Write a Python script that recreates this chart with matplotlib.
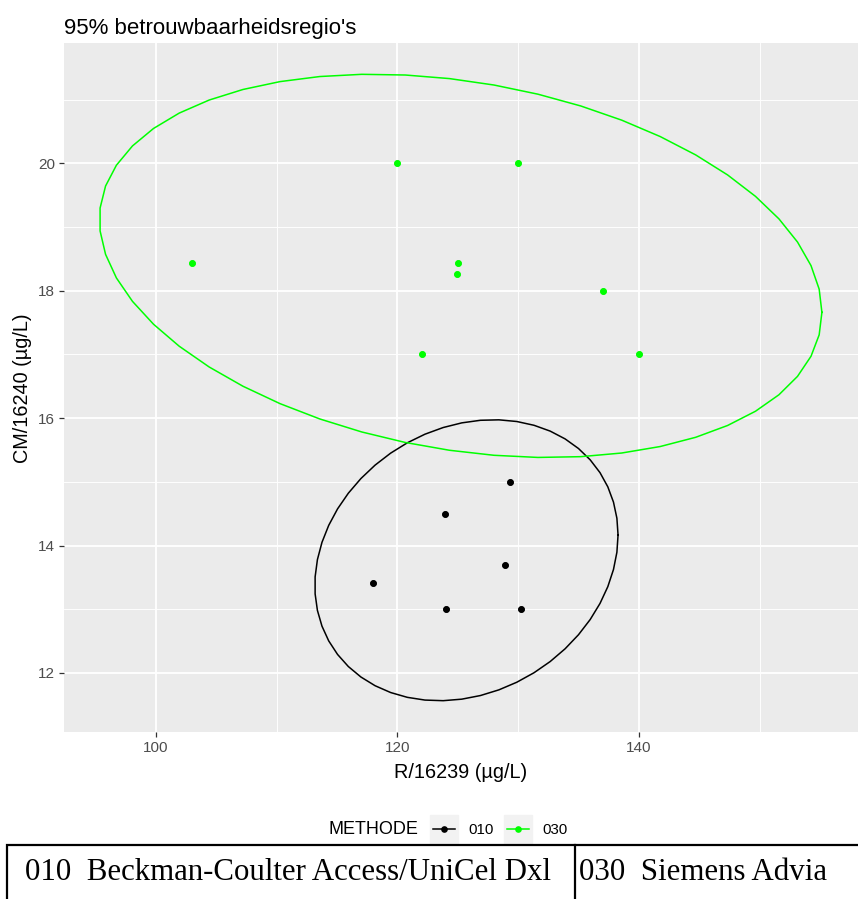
import numpy as np
import matplotlib
matplotlib.use("Agg")
from matplotlib import pyplot as plt
from matplotlib.lines import Line2D
from matplotlib.patches import Rectangle

# data
methode = ['010', '030']
methode_naam = ['Beckman-Coulter Access/UniCel Dxl', 'Siemens Advia']
kleuren = ['black', '#00FF00']

x_010 = [129.3, 123.9, 128.9, 118.0, 124.0, 130.2]
y_010 = [15.0, 14.5, 13.7, 13.42, 13.0, 13.0]
x_030 = [103.0, 120.0, 130.0, 125.0, 124.9, 137.0, 122.0, 140.0]
y_030 = [18.43, 20.0, 20.0, 18.43, 18.27, 18.0, 17.0, 17.0]
# every lab result is in the source data twice (duplicate measurement)
herhalingen = 2

x_ticks = [100, 120, 140]
y_ticks = [12, 14, 16, 18, 20]

W, H = 858, 899


def stat_ellipse(xs, ys, level=0.95, segments=51):
    # ggplot stat_ellipse(type = "norm")
    pts = np.column_stack([xs, ys])
    cov = np.cov(pts.T)
    center = pts.mean(axis=0)
    dfd = len(xs) - 1
    # 2 * qf(level, 2, dfd), closed form for dfn = 2
    radius = np.sqrt(dfd * ((1 - level) ** (-2 / dfd) - 1))
    chol = np.linalg.cholesky(cov).T
    ang = np.arange(segments + 1) * 2 * np.pi / segments
    circle = np.column_stack([np.cos(ang), np.sin(ang)])
    return center + radius * circle @ chol


series = [(np.repeat(x_010, herhalingen), np.repeat(y_010, herhalingen)),
          (np.repeat(x_030, herhalingen), np.repeat(y_030, herhalingen))]
ellipses = [stat_ellipse(xs, ys) for xs, ys in series]

fig = plt.figure(figsize=(W / 100, H / 100), dpi=100)
ax = fig.add_axes([64 / W, 1 - 732 / H, (W - 64) / W, (732 - 43) / H])
ax.set_facecolor('#EBEBEB')
for s in ax.spines.values():
    s.set_visible(False)

for (xs, ys), ell, kl in zip(series, ellipses, kleuren):
    ax.plot(ell[:, 0], ell[:, 1], color=kl, lw=1.1, zorder=3)
    ax.plot(xs, ys, 'o', color=kl, ms=4.8, mec='none', zorder=4)

# limits like ggplot: data range + 5%
all_x = np.concatenate([e[:, 0] for e in ellipses] + [s[0] for s in series])
all_y = np.concatenate([e[:, 1] for e in ellipses] + [s[1] for s in series])
rx = all_x.max() - all_x.min()
ry = all_y.max() - all_y.min()
ax.set_xlim(all_x.min() - 0.05 * rx, all_x.max() + 0.05 * rx)
ax.set_ylim(all_y.min() - 0.05 * ry, all_y.max() + 0.05 * ry)

ax.set_xticks(x_ticks)
ax.set_yticks(y_ticks)
ax.set_xticks([t + 10 for t in x_ticks], minor=True)
ax.set_yticks([t + 1 for t in y_ticks], minor=True)
ax.grid(True, which='major', color='white', lw=1.3)
ax.grid(True, which='minor', color='white', lw=0.65)
ax.set_axisbelow(True)
ax.tick_params(which='major', length=3.5, width=0.9, color='#333333',
               labelsize=11, labelcolor='#4D4D4D', pad=3)
ax.tick_params(which='minor', length=0)
for t in ax.get_xticklabels() + ax.get_yticklabels():
    t.set_family('Liberation Sans')

fig.text(64 / W, 1 - 34 / H, "95% betrouwbaarheidsregio's", fontsize=16,
         family='Liberation Sans', va='baseline', ha='left')
fig.text((64 + W) / 2 / W, 1 - 773 / H, 'R/16239 (µg/L)', fontsize=14.3,
         family='Liberation Sans', ha='center', va='center')
fig.text(23 / W, 1 - 388 / H, 'CM/16240 (µg/L)', fontsize=14.3,
         family='Liberation Sans', ha='center', va='center', rotation=90)

# legend below the panel
fig.text(418 / W, 1 - 830 / H, 'METHODE', fontsize=13, family='Liberation Sans',
         ha='right', va='center')
for i, (m, kl) in enumerate(zip(methode, kleuren)):
    x0 = 430 + i * 74
    fig.patches.append(Rectangle((x0 / W, 1 - 843 / H), 28 / W, 28 / H,
                                 transform=fig.transFigure, color='#F2F2F2', zorder=1))
    fig.lines.append(Line2D([(x0 + 3) / W, (x0 + 25) / W], [1 - 829 / H] * 2,
                            transform=fig.transFigure, color=kl, lw=1.1, zorder=2))
    fig.lines.append(Line2D([(x0 + 14) / W], [1 - 829 / H], marker='o', ms=4.8,
                            mec='none', transform=fig.transFigure, color=kl, zorder=3))
    fig.text((x0 + 38) / W, 1 - 830 / H, m, fontsize=10.8, family='Liberation Sans',
             ha='left', va='center')

# table with method names
fig.patches.append(Rectangle((7 / W, -0.05), 1.1, (1 - 845 / H) + 0.05,
                             transform=fig.transFigure, fill=False, ec='black', lw=1.6))
fig.lines.append(Line2D([575 / W] * 2, [0, 1 - 845 / H], transform=fig.transFigure,
                        color='black', lw=1.6))
cel_x = [25, 579]
for cx, m, naam in zip(cel_x, methode, methode_naam):
    fig.text(cx / W, 1 - 880 / H, m + '  ' + naam, fontsize=22.2,
             family='Liberation Serif', ha='left', va='baseline')

fig.savefig('out.png', dpi=100)
